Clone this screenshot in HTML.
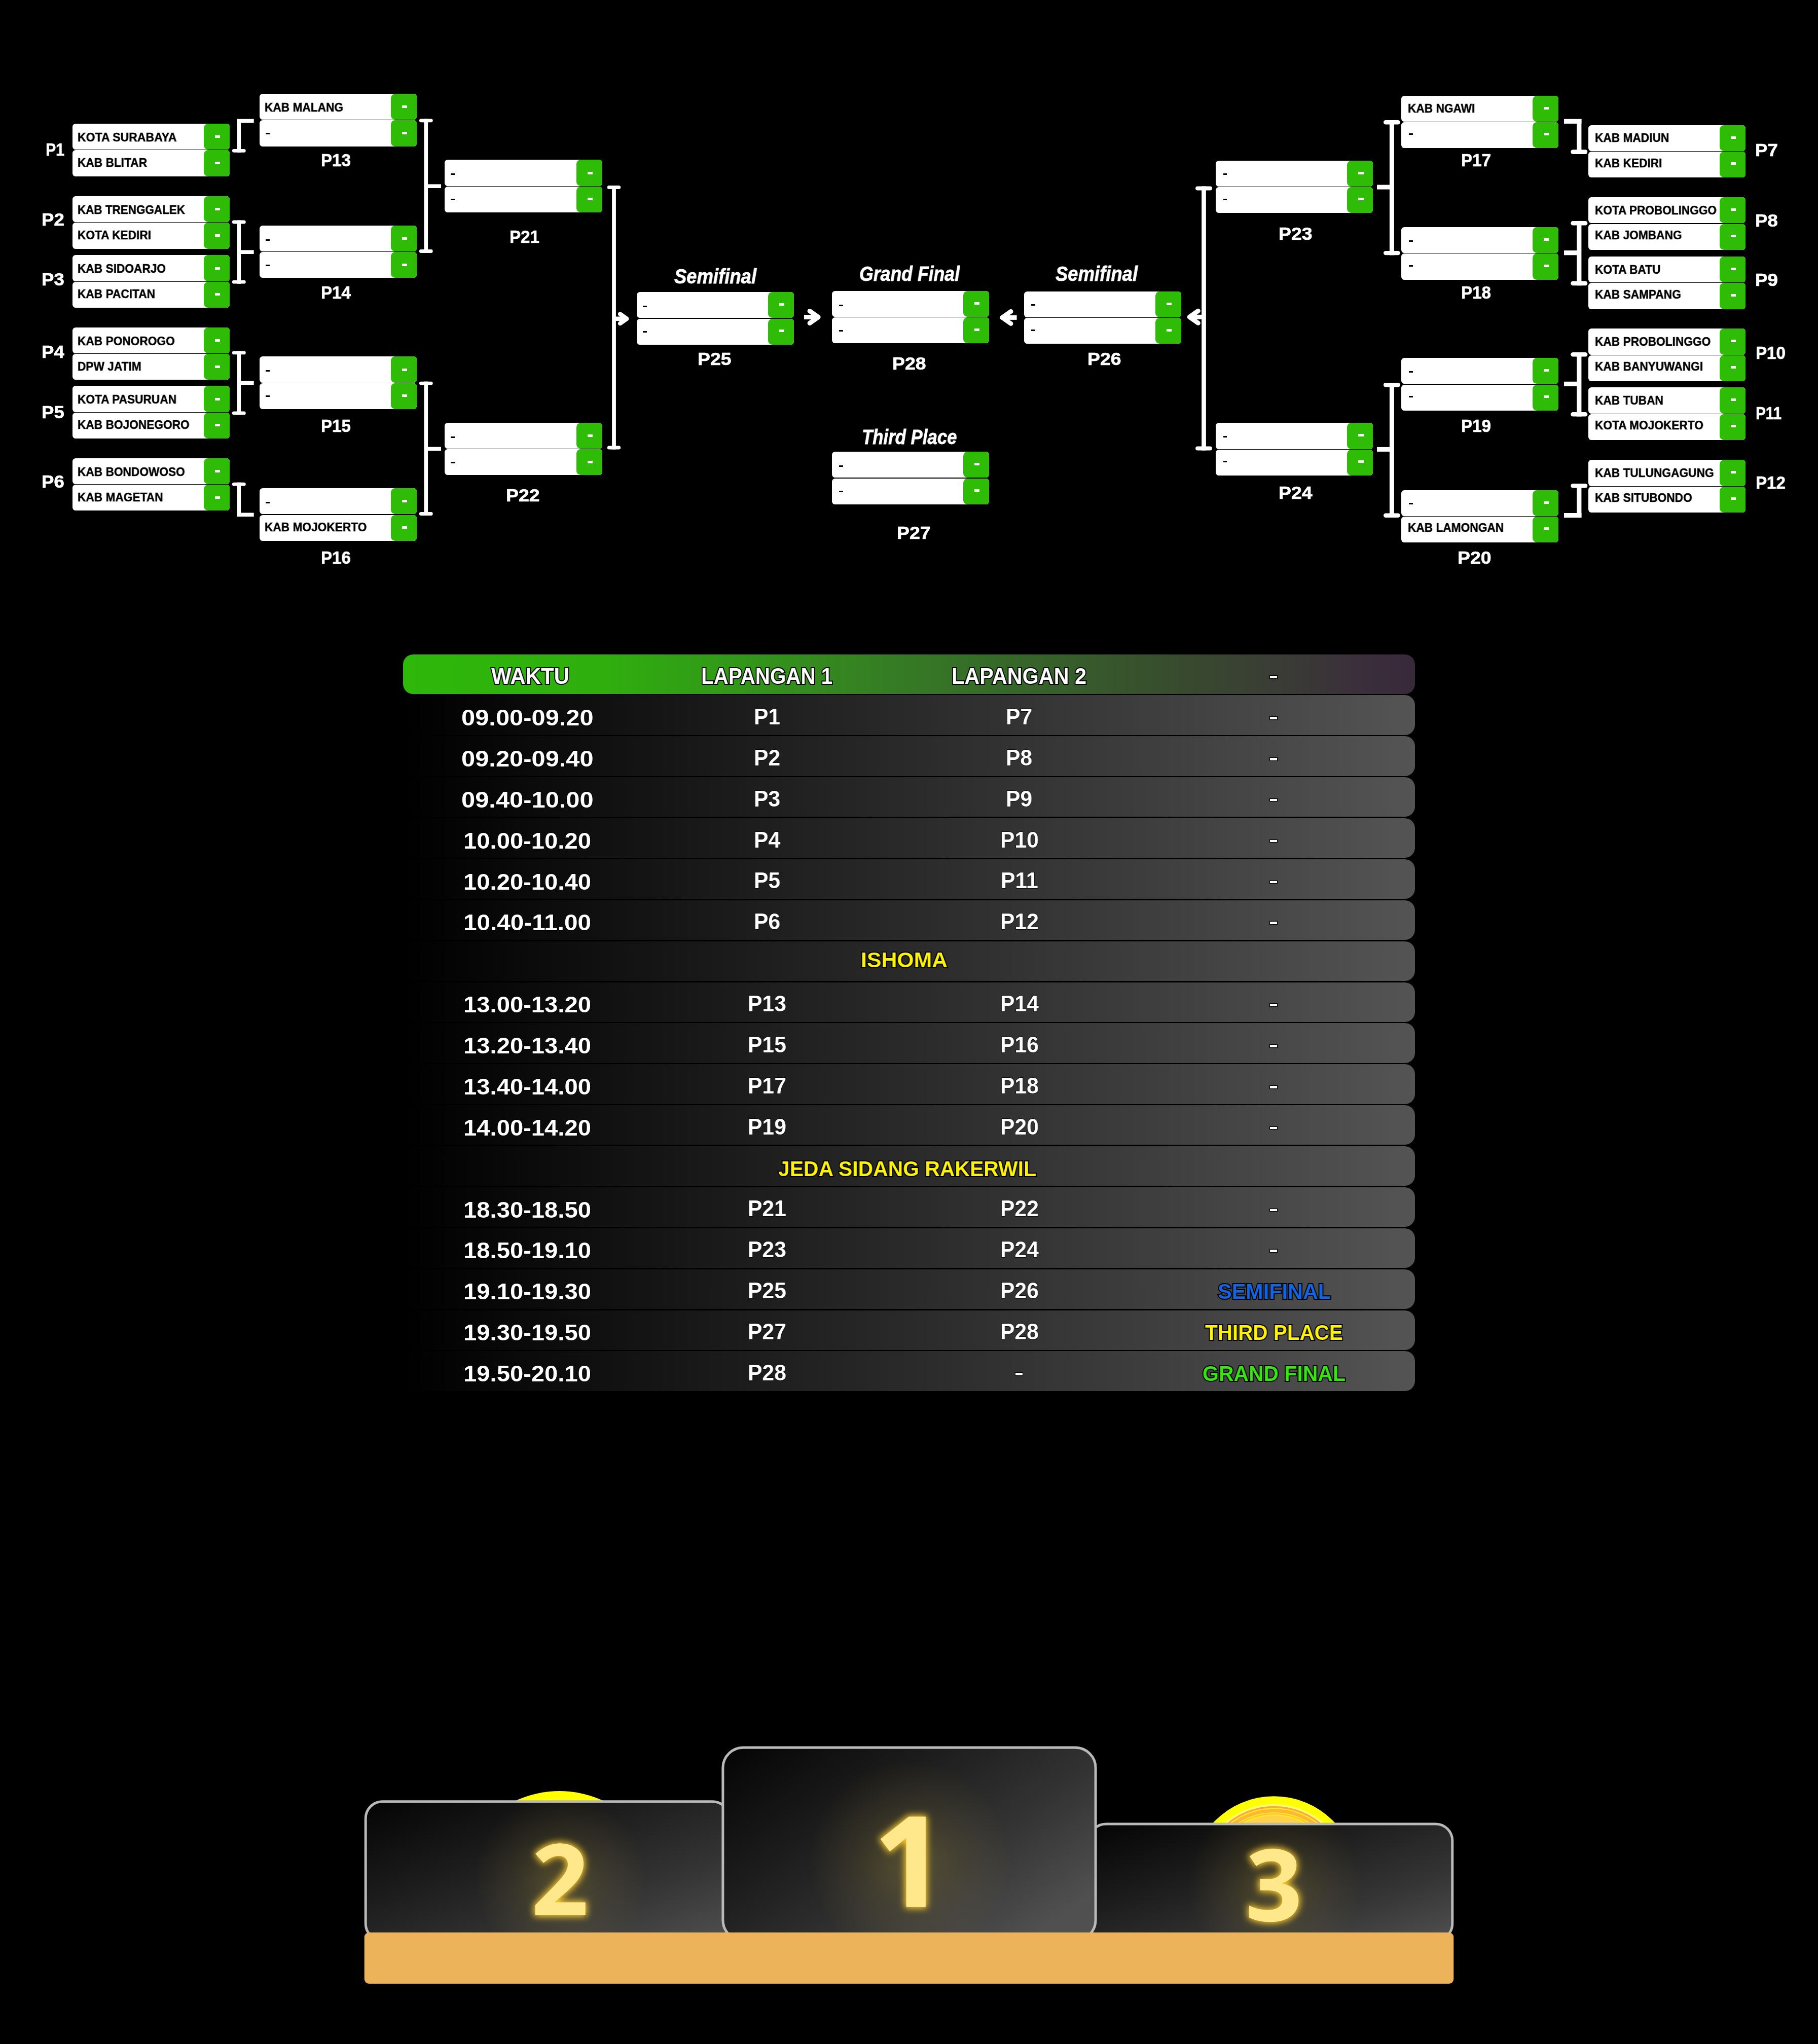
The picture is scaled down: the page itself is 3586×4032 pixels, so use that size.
<!DOCTYPE html>
<html><head><meta charset="utf-8"><title>Bracket</title>
<style>
html,body{margin:0;padding:0;background:#000;}
#page{position:relative;width:3586px;height:4032px;background:#000;overflow:hidden;font-family:"Liberation Sans",sans-serif;}
.r{position:absolute;background:#fff;border-radius:6.3px;}
.r i{position:absolute;right:0;top:0;width:51px;height:100%;background:#2ebc07;border-radius:8.5px 6.3px 6.3px 8.5px;}
.t{position:absolute;white-space:pre;color:#fff;transform-origin:0 0;will-change:transform;}
.b{font-weight:bold;}
.bi{font-weight:bold;font-style:italic;-webkit-text-stroke:0.8px #fff;will-change:transform;}
.st{-webkit-text-stroke:4px #000;paint-order:stroke fill;}
.st2{-webkit-text-stroke:1.5px #000;paint-order:stroke fill;}
.ov{position:absolute;left:0;top:0;}
.th{position:absolute;border-radius:20px;background:linear-gradient(90deg,#2eb80a 0%,#2fae0e 20%,#358222 45%,#36652a 61%,#384a2e 77%,#3a3d35 86%,#3a2e3b 95%,#38293a 100%);}
.tr{position:absolute;border-radius:20px;background:linear-gradient(90deg,#000 0%,#545454 100%);}
.nm{-webkit-text-stroke:0.5px #000;}
.pl{-webkit-text-stroke:0.7px #fff;will-change:transform;}

</style></head>
<body>
<div id="page">
<div class="r" style="left:142.8px;top:243.9px;width:310.2px;height:51.3px"><i></i></div>
<div style="position:absolute;left:423.9px;top:267.1px;width:10.4px;height:5px;background:#fff"></div>
<div class="r" style="left:142.8px;top:296.3px;width:310.2px;height:51.3px"><i></i></div>
<div style="position:absolute;left:423.9px;top:318.8px;width:10.4px;height:5px;background:#fff"></div>
<div class="r" style="left:142.8px;top:386.9px;width:310.2px;height:51.3px"><i></i></div>
<div style="position:absolute;left:423.9px;top:410.1px;width:10.4px;height:5px;background:#fff"></div>
<div class="r" style="left:142.8px;top:439.3px;width:310.2px;height:51.3px"><i></i></div>
<div style="position:absolute;left:423.9px;top:461.7px;width:10.4px;height:5px;background:#fff"></div>
<div class="r" style="left:142.8px;top:503.3px;width:310.2px;height:51.3px"><i></i></div>
<div style="position:absolute;left:423.9px;top:526.6px;width:10.4px;height:5px;background:#fff"></div>
<div class="r" style="left:142.8px;top:555.7px;width:310.2px;height:51.3px"><i></i></div>
<div style="position:absolute;left:423.9px;top:578.2px;width:10.4px;height:5px;background:#fff"></div>
<div class="r" style="left:142.8px;top:645.6px;width:310.2px;height:51.3px"><i></i></div>
<div style="position:absolute;left:423.9px;top:668.9px;width:10.4px;height:5px;background:#fff"></div>
<div class="r" style="left:142.8px;top:698.0px;width:310.2px;height:51.3px"><i></i></div>
<div style="position:absolute;left:423.9px;top:720.5px;width:10.4px;height:5px;background:#fff"></div>
<div class="r" style="left:142.8px;top:761.4px;width:310.2px;height:51.3px"><i></i></div>
<div style="position:absolute;left:423.9px;top:784.6px;width:10.4px;height:5px;background:#fff"></div>
<div class="r" style="left:142.8px;top:813.8px;width:310.2px;height:51.3px"><i></i></div>
<div style="position:absolute;left:423.9px;top:836.2px;width:10.4px;height:5px;background:#fff"></div>
<div class="r" style="left:142.8px;top:903.7px;width:310.2px;height:51.3px"><i></i></div>
<div style="position:absolute;left:423.9px;top:927.0px;width:10.4px;height:5px;background:#fff"></div>
<div class="r" style="left:142.8px;top:956.1px;width:310.2px;height:51.3px"><i></i></div>
<div style="position:absolute;left:423.9px;top:978.6px;width:10.4px;height:5px;background:#fff"></div>
<div class="r" style="left:511.9px;top:184.9px;width:310.2px;height:51.3px"><i></i></div>
<div style="position:absolute;left:793.0px;top:208.2px;width:10.4px;height:5px;background:#fff"></div>
<div class="r" style="left:511.9px;top:237.3px;width:310.2px;height:51.3px"><i></i></div>
<div style="position:absolute;left:793.0px;top:259.8px;width:10.4px;height:5px;background:#fff"></div>
<div style="position:absolute;left:523.7px;top:261.8px;width:7.9px;height:3.1px;background:#000"></div>
<div class="r" style="left:511.9px;top:444.8px;width:310.2px;height:51.3px"><i></i></div>
<div style="position:absolute;left:793.0px;top:468.0px;width:10.4px;height:5px;background:#fff"></div>
<div style="position:absolute;left:523.7px;top:471.7px;width:7.9px;height:3.1px;background:#000"></div>
<div class="r" style="left:511.9px;top:497.2px;width:310.2px;height:51.3px"><i></i></div>
<div style="position:absolute;left:793.0px;top:519.7px;width:10.4px;height:5px;background:#fff"></div>
<div style="position:absolute;left:523.7px;top:521.7px;width:7.9px;height:3.1px;background:#000"></div>
<div class="r" style="left:511.9px;top:703.3px;width:310.2px;height:51.3px"><i></i></div>
<div style="position:absolute;left:793.0px;top:726.5px;width:10.4px;height:5px;background:#fff"></div>
<div style="position:absolute;left:523.7px;top:730.2px;width:7.9px;height:3.1px;background:#000"></div>
<div class="r" style="left:511.9px;top:755.7px;width:310.2px;height:51.3px"><i></i></div>
<div style="position:absolute;left:793.0px;top:778.1px;width:10.4px;height:5px;background:#fff"></div>
<div style="position:absolute;left:523.7px;top:780.2px;width:7.9px;height:3.1px;background:#000"></div>
<div class="r" style="left:511.9px;top:963.1px;width:310.2px;height:51.3px"><i></i></div>
<div style="position:absolute;left:793.0px;top:986.4px;width:10.4px;height:5px;background:#fff"></div>
<div style="position:absolute;left:523.7px;top:990.0px;width:7.9px;height:3.1px;background:#000"></div>
<div class="r" style="left:511.9px;top:1015.5px;width:310.2px;height:51.3px"><i></i></div>
<div style="position:absolute;left:793.0px;top:1038.0px;width:10.4px;height:5px;background:#fff"></div>
<div class="r" style="left:877.4px;top:315.3px;width:310.2px;height:51.3px"><i></i></div>
<div style="position:absolute;left:1158.5px;top:338.5px;width:10.4px;height:5px;background:#fff"></div>
<div style="position:absolute;left:889.2px;top:342.2px;width:7.9px;height:3.1px;background:#000"></div>
<div class="r" style="left:877.4px;top:367.7px;width:310.2px;height:51.3px"><i></i></div>
<div style="position:absolute;left:1158.5px;top:390.1px;width:10.4px;height:5px;background:#fff"></div>
<div style="position:absolute;left:889.2px;top:392.2px;width:7.9px;height:3.1px;background:#000"></div>
<div class="r" style="left:877.4px;top:833.6px;width:310.2px;height:51.3px"><i></i></div>
<div style="position:absolute;left:1158.5px;top:856.9px;width:10.4px;height:5px;background:#fff"></div>
<div style="position:absolute;left:889.2px;top:860.5px;width:7.9px;height:3.1px;background:#000"></div>
<div class="r" style="left:877.4px;top:886.0px;width:310.2px;height:51.3px"><i></i></div>
<div style="position:absolute;left:1158.5px;top:908.5px;width:10.4px;height:5px;background:#fff"></div>
<div style="position:absolute;left:889.2px;top:910.5px;width:7.9px;height:3.1px;background:#000"></div>
<div class="r" style="left:1255.9px;top:576.2px;width:310.2px;height:51.3px"><i></i></div>
<div style="position:absolute;left:1537.0px;top:598.2px;width:10.4px;height:5px;background:#fff"></div>
<div style="position:absolute;left:1267.7px;top:603.1px;width:7.9px;height:3.1px;background:#000"></div>
<div class="r" style="left:1255.9px;top:628.6px;width:310.2px;height:51.3px"><i></i></div>
<div style="position:absolute;left:1537.0px;top:650.0px;width:10.4px;height:5px;background:#fff"></div>
<div style="position:absolute;left:1267.7px;top:653.1px;width:7.9px;height:3.1px;background:#000"></div>
<div class="r" style="left:1640.6px;top:573.7px;width:310.2px;height:51.3px"><i></i></div>
<div style="position:absolute;left:1921.7px;top:595.7px;width:10.4px;height:5px;background:#fff"></div>
<div style="position:absolute;left:1654.9px;top:600.6px;width:7.9px;height:3.1px;background:#000"></div>
<div class="r" style="left:1640.6px;top:626.1px;width:310.2px;height:51.3px"><i></i></div>
<div style="position:absolute;left:1921.7px;top:647.5px;width:10.4px;height:5px;background:#fff"></div>
<div style="position:absolute;left:1654.9px;top:650.6px;width:7.9px;height:3.1px;background:#000"></div>
<div class="r" style="left:2019.8px;top:574.8px;width:310.2px;height:51.3px"><i></i></div>
<div style="position:absolute;left:2300.9px;top:596.8px;width:10.4px;height:5px;background:#fff"></div>
<div style="position:absolute;left:2034.1px;top:600.3px;width:7.9px;height:3.1px;background:#000"></div>
<div class="r" style="left:2019.8px;top:627.2px;width:310.2px;height:51.3px"><i></i></div>
<div style="position:absolute;left:2300.9px;top:648.5px;width:10.4px;height:5px;background:#fff"></div>
<div style="position:absolute;left:2034.1px;top:649.6px;width:7.9px;height:3.1px;background:#000"></div>
<div class="r" style="left:1640.6px;top:891.2px;width:310.2px;height:51.3px"><i></i></div>
<div style="position:absolute;left:1921.7px;top:913.2px;width:10.4px;height:5px;background:#fff"></div>
<div style="position:absolute;left:1654.9px;top:918.1px;width:7.9px;height:3.1px;background:#000"></div>
<div class="r" style="left:1640.6px;top:943.6px;width:310.2px;height:51.3px"><i></i></div>
<div style="position:absolute;left:1921.7px;top:965.0px;width:10.4px;height:5px;background:#fff"></div>
<div style="position:absolute;left:1654.9px;top:968.1px;width:7.9px;height:3.1px;background:#000"></div>
<div class="r" style="left:2398.3px;top:316.7px;width:310.2px;height:51.3px"><i></i></div>
<div style="position:absolute;left:2679.4px;top:338.6px;width:10.4px;height:5px;background:#fff"></div>
<div style="position:absolute;left:2412.6px;top:342.2px;width:7.9px;height:3.1px;background:#000"></div>
<div class="r" style="left:2398.3px;top:369.1px;width:310.2px;height:51.3px"><i></i></div>
<div style="position:absolute;left:2679.4px;top:390.4px;width:10.4px;height:5px;background:#fff"></div>
<div style="position:absolute;left:2412.6px;top:391.5px;width:7.9px;height:3.1px;background:#000"></div>
<div class="r" style="left:2398.3px;top:834.4px;width:310.2px;height:51.3px"><i></i></div>
<div style="position:absolute;left:2679.4px;top:856.4px;width:10.4px;height:5px;background:#fff"></div>
<div style="position:absolute;left:2412.6px;top:859.9px;width:7.9px;height:3.1px;background:#000"></div>
<div class="r" style="left:2398.3px;top:886.8px;width:310.2px;height:51.3px"><i></i></div>
<div style="position:absolute;left:2679.4px;top:908.1px;width:10.4px;height:5px;background:#fff"></div>
<div style="position:absolute;left:2412.6px;top:909.2px;width:7.9px;height:3.1px;background:#000"></div>
<div class="r" style="left:2764.0px;top:188.6px;width:310.2px;height:51.3px"><i></i></div>
<div style="position:absolute;left:3045.1px;top:210.5px;width:10.4px;height:5px;background:#fff"></div>
<div class="r" style="left:2764.0px;top:241.0px;width:310.2px;height:51.3px"><i></i></div>
<div style="position:absolute;left:3045.1px;top:262.3px;width:10.4px;height:5px;background:#fff"></div>
<div style="position:absolute;left:2779.2px;top:263.4px;width:7.9px;height:3.1px;background:#000"></div>
<div class="r" style="left:2764.0px;top:448.0px;width:310.2px;height:51.3px"><i></i></div>
<div style="position:absolute;left:3045.1px;top:469.9px;width:10.4px;height:5px;background:#fff"></div>
<div style="position:absolute;left:2779.2px;top:473.5px;width:7.9px;height:3.1px;background:#000"></div>
<div class="r" style="left:2764.0px;top:500.4px;width:310.2px;height:51.3px"><i></i></div>
<div style="position:absolute;left:3045.1px;top:521.8px;width:10.4px;height:5px;background:#fff"></div>
<div style="position:absolute;left:2779.2px;top:522.8px;width:7.9px;height:3.1px;background:#000"></div>
<div class="r" style="left:2764.0px;top:706.2px;width:310.2px;height:51.3px"><i></i></div>
<div style="position:absolute;left:3045.1px;top:728.2px;width:10.4px;height:5px;background:#fff"></div>
<div style="position:absolute;left:2779.2px;top:731.7px;width:7.9px;height:3.1px;background:#000"></div>
<div class="r" style="left:2764.0px;top:758.6px;width:310.2px;height:51.3px"><i></i></div>
<div style="position:absolute;left:3045.1px;top:780.0px;width:10.4px;height:5px;background:#fff"></div>
<div style="position:absolute;left:2779.2px;top:781.0px;width:7.9px;height:3.1px;background:#000"></div>
<div class="r" style="left:2764.0px;top:966.5px;width:310.2px;height:51.3px"><i></i></div>
<div style="position:absolute;left:3045.1px;top:988.5px;width:10.4px;height:5px;background:#fff"></div>
<div style="position:absolute;left:2779.2px;top:992.0px;width:7.9px;height:3.1px;background:#000"></div>
<div class="r" style="left:2764.0px;top:1018.9px;width:310.2px;height:51.3px"><i></i></div>
<div style="position:absolute;left:3045.1px;top:1040.2px;width:10.4px;height:5px;background:#fff"></div>
<div class="r" style="left:3132.9px;top:246.7px;width:310.2px;height:51.3px"><i></i></div>
<div style="position:absolute;left:3414.0px;top:268.6px;width:10.4px;height:5px;background:#fff"></div>
<div class="r" style="left:3132.9px;top:299.1px;width:310.2px;height:51.3px"><i></i></div>
<div style="position:absolute;left:3414.0px;top:320.4px;width:10.4px;height:5px;background:#fff"></div>
<div class="r" style="left:3132.9px;top:389.2px;width:310.2px;height:51.3px"><i></i></div>
<div style="position:absolute;left:3414.0px;top:411.1px;width:10.4px;height:5px;background:#fff"></div>
<div class="r" style="left:3132.9px;top:441.6px;width:310.2px;height:51.3px"><i></i></div>
<div style="position:absolute;left:3414.0px;top:462.9px;width:10.4px;height:5px;background:#fff"></div>
<div class="r" style="left:3132.9px;top:506.0px;width:310.2px;height:51.3px"><i></i></div>
<div style="position:absolute;left:3414.0px;top:528.0px;width:10.4px;height:5px;background:#fff"></div>
<div class="r" style="left:3132.9px;top:558.4px;width:310.2px;height:51.3px"><i></i></div>
<div style="position:absolute;left:3414.0px;top:579.8px;width:10.4px;height:5px;background:#fff"></div>
<div class="r" style="left:3132.9px;top:648.4px;width:310.2px;height:51.3px"><i></i></div>
<div style="position:absolute;left:3414.0px;top:670.4px;width:10.4px;height:5px;background:#fff"></div>
<div class="r" style="left:3132.9px;top:700.8px;width:310.2px;height:51.3px"><i></i></div>
<div style="position:absolute;left:3414.0px;top:722.1px;width:10.4px;height:5px;background:#fff"></div>
<div class="r" style="left:3132.9px;top:764.3px;width:310.2px;height:51.3px"><i></i></div>
<div style="position:absolute;left:3414.0px;top:786.2px;width:10.4px;height:5px;background:#fff"></div>
<div class="r" style="left:3132.9px;top:816.7px;width:310.2px;height:51.3px"><i></i></div>
<div style="position:absolute;left:3414.0px;top:838.0px;width:10.4px;height:5px;background:#fff"></div>
<div class="r" style="left:3132.9px;top:907.3px;width:310.2px;height:51.3px"><i></i></div>
<div style="position:absolute;left:3414.0px;top:929.2px;width:10.4px;height:5px;background:#fff"></div>
<div class="r" style="left:3132.9px;top:959.7px;width:310.2px;height:51.3px"><i></i></div>
<div style="position:absolute;left:3414.0px;top:981.0px;width:10.4px;height:5px;background:#fff"></div>
<div class="th" style="left:794.6px;top:1290.60px;width:1996.4px;height:78.2px"></div>
<div style="position:absolute;left:2504.9px;top:1333.1px;width:14.6px;height:4.8px;background:#fff;box-shadow:0 0 0 1.2px #000"></div>
<div class="tr" style="left:794.6px;top:1371.47px;width:1996.4px;height:78.2px"></div>
<div style="position:absolute;left:2504.9px;top:1414.0px;width:14.6px;height:4.8px;background:#fff;box-shadow:0 0 0 1.2px #000"></div>
<div class="tr" style="left:794.6px;top:1452.35px;width:1996.4px;height:78.2px"></div>
<div style="position:absolute;left:2504.9px;top:1494.8px;width:14.6px;height:4.8px;background:#fff;box-shadow:0 0 0 1.2px #000"></div>
<div class="tr" style="left:794.6px;top:1533.22px;width:1996.4px;height:78.2px"></div>
<div style="position:absolute;left:2504.9px;top:1575.7px;width:14.6px;height:4.8px;background:#fff;box-shadow:0 0 0 1.2px #000"></div>
<div class="tr" style="left:794.6px;top:1614.10px;width:1996.4px;height:78.2px"></div>
<div style="position:absolute;left:2504.9px;top:1656.6px;width:14.6px;height:4.8px;background:#fff;box-shadow:0 0 0 1.2px #000"></div>
<div class="tr" style="left:794.6px;top:1694.97px;width:1996.4px;height:78.2px"></div>
<div style="position:absolute;left:2504.9px;top:1737.5px;width:14.6px;height:4.8px;background:#fff;box-shadow:0 0 0 1.2px #000"></div>
<div class="tr" style="left:794.6px;top:1775.85px;width:1996.4px;height:78.2px"></div>
<div style="position:absolute;left:2504.9px;top:1818.3px;width:14.6px;height:4.8px;background:#fff;box-shadow:0 0 0 1.2px #000"></div>
<div class="tr" style="left:794.6px;top:1856.72px;width:1996.4px;height:78.2px"></div>
<div class="tr" style="left:794.6px;top:1937.60px;width:1996.4px;height:78.2px"></div>
<div style="position:absolute;left:2504.9px;top:1980.1px;width:14.6px;height:4.8px;background:#fff;box-shadow:0 0 0 1.2px #000"></div>
<div class="tr" style="left:794.6px;top:2018.47px;width:1996.4px;height:78.2px"></div>
<div style="position:absolute;left:2504.9px;top:2061.0px;width:14.6px;height:4.8px;background:#fff;box-shadow:0 0 0 1.2px #000"></div>
<div class="tr" style="left:794.6px;top:2099.35px;width:1996.4px;height:78.2px"></div>
<div style="position:absolute;left:2504.9px;top:2141.8px;width:14.6px;height:4.8px;background:#fff;box-shadow:0 0 0 1.2px #000"></div>
<div class="tr" style="left:794.6px;top:2180.22px;width:1996.4px;height:78.2px"></div>
<div style="position:absolute;left:2504.9px;top:2222.7px;width:14.6px;height:4.8px;background:#fff;box-shadow:0 0 0 1.2px #000"></div>
<div class="tr" style="left:794.6px;top:2261.10px;width:1996.4px;height:78.2px"></div>
<div class="tr" style="left:794.6px;top:2341.97px;width:1996.4px;height:78.2px"></div>
<div style="position:absolute;left:2504.9px;top:2384.5px;width:14.6px;height:4.8px;background:#fff;box-shadow:0 0 0 1.2px #000"></div>
<div class="tr" style="left:794.6px;top:2422.85px;width:1996.4px;height:78.2px"></div>
<div style="position:absolute;left:2504.9px;top:2465.3px;width:14.6px;height:4.8px;background:#fff;box-shadow:0 0 0 1.2px #000"></div>
<div class="tr" style="left:794.6px;top:2503.72px;width:1996.4px;height:78.2px"></div>
<div class="tr" style="left:794.6px;top:2584.60px;width:1996.4px;height:78.2px"></div>
<div class="tr" style="left:794.6px;top:2665.47px;width:1996.4px;height:78.2px"></div>
<div style="position:absolute;left:2002.9px;top:2708.0px;width:14.6px;height:4.8px;background:#fff;box-shadow:0 0 0 1.2px #000"></div>
<span class="t b nm" style="left:152.5px;top:259.9px;font-size:23.6px;line-height:23.6px;transform:scaleX(0.9772);color:#000">KOTA SURABAYA</span>
<span class="t b nm" style="left:152.5px;top:309.9px;font-size:23.6px;line-height:23.6px;transform:scaleX(0.9620);color:#000">KAB BLITAR</span>
<span class="t b nm" style="left:152.5px;top:402.9px;font-size:23.6px;line-height:23.6px;transform:scaleX(0.9514);color:#000">KAB TRENGGALEK</span>
<span class="t b nm" style="left:152.5px;top:452.9px;font-size:23.6px;line-height:23.6px;transform:scaleX(0.9620);color:#000">KOTA KEDIRI</span>
<span class="t b nm" style="left:152.5px;top:519.3px;font-size:23.6px;line-height:23.6px;transform:scaleX(0.9620);color:#000">KAB SIDOARJO</span>
<span class="t b nm" style="left:152.5px;top:569.3px;font-size:23.6px;line-height:23.6px;transform:scaleX(0.9620);color:#000">KAB PACITAN</span>
<span class="t b nm" style="left:152.5px;top:661.6px;font-size:23.6px;line-height:23.6px;transform:scaleX(0.9620);color:#000">KAB PONOROGO</span>
<span class="t b nm" style="left:152.5px;top:711.6px;font-size:23.6px;line-height:23.6px;transform:scaleX(0.9620);color:#000">DPW JATIM</span>
<span class="t b nm" style="left:152.5px;top:777.4px;font-size:23.6px;line-height:23.6px;transform:scaleX(0.9620);color:#000">KOTA PASURUAN</span>
<span class="t b nm" style="left:152.5px;top:827.4px;font-size:23.6px;line-height:23.6px;transform:scaleX(0.9620);color:#000">KAB BOJONEGORO</span>
<span class="t b nm" style="left:152.5px;top:919.7px;font-size:23.6px;line-height:23.6px;transform:scaleX(0.9620);color:#000">KAB BONDOWOSO</span>
<span class="t b nm" style="left:152.5px;top:969.7px;font-size:23.6px;line-height:23.6px;transform:scaleX(0.9620);color:#000">KAB MAGETAN</span>
<span class="t b nm" style="left:521.6px;top:200.9px;font-size:23.6px;line-height:23.6px;transform:scaleX(0.9620);color:#000">KAB MALANG</span>
<span class="t b nm" style="left:521.6px;top:1029.1px;font-size:23.6px;line-height:23.6px;transform:scaleX(0.9620);color:#000">KAB MOJOKERTO</span>
<span class="t b nm" style="left:2777.1px;top:203.2px;font-size:23.6px;line-height:23.6px;transform:scaleX(0.9620);color:#000">KAB NGAWI</span>
<span class="t b nm" style="left:2777.1px;top:1030.4px;font-size:23.6px;line-height:23.6px;transform:scaleX(0.9620);color:#000">KAB LAMONGAN</span>
<span class="t b nm" style="left:3146.0px;top:261.3px;font-size:23.6px;line-height:23.6px;transform:scaleX(0.9620);color:#000">KAB MADIUN</span>
<span class="t b nm" style="left:3146.0px;top:310.6px;font-size:23.6px;line-height:23.6px;transform:scaleX(0.9620);color:#000">KAB KEDIRI</span>
<span class="t b nm" style="left:3145.6px;top:403.8px;font-size:23.6px;line-height:23.6px;transform:scaleX(0.9586);color:#000">KOTA PROBOLINGGO</span>
<span class="t b nm" style="left:3145.6px;top:453.1px;font-size:23.6px;line-height:23.6px;transform:scaleX(0.9620);color:#000">KAB JOMBANG</span>
<span class="t b nm" style="left:3146.0px;top:520.6px;font-size:23.6px;line-height:23.6px;transform:scaleX(0.9620);color:#000">KOTA BATU</span>
<span class="t b nm" style="left:3146.0px;top:569.9px;font-size:23.6px;line-height:23.6px;transform:scaleX(0.9620);color:#000">KAB SAMPANG</span>
<span class="t b nm" style="left:3146.0px;top:663.0px;font-size:23.6px;line-height:23.6px;transform:scaleX(0.9620);color:#000">KAB PROBOLINGGO</span>
<span class="t b nm" style="left:3146.0px;top:712.3px;font-size:23.6px;line-height:23.6px;transform:scaleX(0.9620);color:#000">KAB BANYUWANGI</span>
<span class="t b nm" style="left:3146.0px;top:778.9px;font-size:23.6px;line-height:23.6px;transform:scaleX(0.9620);color:#000">KAB TUBAN</span>
<span class="t b nm" style="left:3146.0px;top:828.2px;font-size:23.6px;line-height:23.6px;transform:scaleX(0.9620);color:#000">KOTA MOJOKERTO</span>
<span class="t b nm" style="left:3146.0px;top:921.9px;font-size:23.6px;line-height:23.6px;transform:scaleX(0.9620);color:#000">KAB TULUNGAGUNG</span>
<span class="t b nm" style="left:3146.0px;top:971.2px;font-size:23.6px;line-height:23.6px;transform:scaleX(0.9620);color:#000">KAB SITUBONDO</span>
<span class="t b pl" style="left:89.8px;top:276.8px;font-size:35.3px;line-height:35.3px;transform:scaleX(0.8584);">P1</span>
<span class="t b pl" style="left:82.3px;top:414.8px;font-size:35.3px;line-height:35.3px;transform:scaleX(1.0367);">P2</span>
<span class="t b pl" style="left:82.3px;top:532.5px;font-size:35.3px;line-height:35.3px;transform:scaleX(1.0367);">P3</span>
<span class="t b pl" style="left:82.3px;top:676.4px;font-size:35.3px;line-height:35.3px;transform:scaleX(1.0367);">P4</span>
<span class="t b pl" style="left:82.3px;top:795.0px;font-size:35.3px;line-height:35.3px;transform:scaleX(1.0367);">P5</span>
<span class="t b pl" style="left:82.3px;top:932.4px;font-size:35.3px;line-height:35.3px;transform:scaleX(1.0367);">P6</span>
<span class="t b pl" style="left:3462.2px;top:277.8px;font-size:35.3px;line-height:35.3px;transform:scaleX(1.0367);">P7</span>
<span class="t b pl" style="left:3462.2px;top:416.8px;font-size:35.3px;line-height:35.3px;transform:scaleX(1.0367);">P8</span>
<span class="t b pl" style="left:3462.2px;top:534.4px;font-size:35.3px;line-height:35.3px;transform:scaleX(1.0367);">P9</span>
<span class="t b pl" style="left:3462.5px;top:677.9px;font-size:35.3px;line-height:35.3px;transform:scaleX(0.9372);">P10</span>
<span class="t b pl" style="left:3462.7px;top:796.6px;font-size:35.3px;line-height:35.3px;transform:scaleX(0.8408);">P11</span>
<span class="t b pl" style="left:3462.5px;top:933.9px;font-size:35.3px;line-height:35.3px;transform:scaleX(0.9372);">P12</span>
<span class="t b pl" style="left:633.4px;top:298.3px;font-size:35.3px;line-height:35.3px;transform:scaleX(0.9372);">P13</span>
<span class="t b pl" style="left:633.4px;top:558.9px;font-size:35.3px;line-height:35.3px;transform:scaleX(0.9372);">P14</span>
<span class="t b pl" style="left:633.4px;top:822.1px;font-size:35.3px;line-height:35.3px;transform:scaleX(0.9372);">P15</span>
<span class="t b pl" style="left:633.4px;top:1082.0px;font-size:35.3px;line-height:35.3px;transform:scaleX(0.9372);">P16</span>
<span class="t b pl" style="left:1005.4px;top:449.1px;font-size:35.3px;line-height:35.3px;transform:scaleX(0.9372);">P21</span>
<span class="t b pl" style="left:997.9px;top:958.9px;font-size:35.3px;line-height:35.3px;transform:scaleX(1.0598);">P22</span>
<span class="t b pl" style="left:2882.3px;top:298.1px;font-size:35.3px;line-height:35.3px;transform:scaleX(0.9372);">P17</span>
<span class="t b pl" style="left:2882.3px;top:559.1px;font-size:35.3px;line-height:35.3px;transform:scaleX(0.9372);">P18</span>
<span class="t b pl" style="left:2882.3px;top:821.9px;font-size:35.3px;line-height:35.3px;transform:scaleX(0.9372);">P19</span>
<span class="t b pl" style="left:2874.8px;top:1082.3px;font-size:35.3px;line-height:35.3px;transform:scaleX(1.0598);">P20</span>
<span class="t b pl" style="left:2522.3px;top:443.3px;font-size:35.3px;line-height:35.3px;transform:scaleX(1.0598);">P23</span>
<span class="t b pl" style="left:2522.3px;top:954.1px;font-size:35.3px;line-height:35.3px;transform:scaleX(1.0598);">P24</span>
<span class="t b pl" style="left:1375.5px;top:689.8px;font-size:35.3px;line-height:35.3px;transform:scaleX(1.0598);">P25</span>
<span class="t b pl" style="left:2144.8px;top:690.4px;font-size:35.3px;line-height:35.3px;transform:scaleX(1.0598);">P26</span>
<span class="t b pl" style="left:1759.8px;top:699.0px;font-size:35.3px;line-height:35.3px;transform:scaleX(1.0598);">P28</span>
<span class="t b pl" style="left:1769.1px;top:1032.9px;font-size:35.3px;line-height:35.3px;transform:scaleX(1.0598);">P27</span>
<span class="t bi" style="left:1329.5px;top:524.8px;font-size:41px;line-height:41px;transform:scaleX(0.8887);">Semifinal</span>
<span class="t bi" style="left:2082.0px;top:520.1px;font-size:41px;line-height:41px;transform:scaleX(0.8887);">Semifinal</span>
<span class="t bi" style="left:1695.3px;top:520.4px;font-size:41px;line-height:41px;transform:scaleX(0.8691);">Grand Final</span>
<span class="t bi" style="left:1700.4px;top:842.2px;font-size:41px;line-height:41px;transform:scaleX(0.8484);">Third Place</span>
<span class="t b st" style="left:968.7px;top:1311.1px;font-size:45px;line-height:45px;transform:scaleX(0.9334);">WAKTU</span>
<span class="t b st" style="left:1382.9px;top:1311.1px;font-size:45px;line-height:45px;transform:scaleX(0.8956);">LAPANGAN 1</span>
<span class="t b st" style="left:1877.3px;top:1311.1px;font-size:45px;line-height:45px;transform:scaleX(0.9198);">LAPANGAN 2</span>
<span class="t b st2" style="left:909.6px;top:1395.0px;font-size:43.6px;line-height:43.6px;transform:scaleX(1.1203);">09.00-09.20</span>
<span class="t b st2" style="left:1486.9px;top:1391.9px;font-size:44px;line-height:44px;transform:scaleX(0.9700);">P1</span>
<span class="t b st2" style="left:1984.4px;top:1391.9px;font-size:44px;line-height:44px;transform:scaleX(0.9700);">P7</span>
<span class="t b st2" style="left:909.6px;top:1475.8px;font-size:43.6px;line-height:43.6px;transform:scaleX(1.1203);">09.20-09.40</span>
<span class="t b st2" style="left:1486.9px;top:1472.8px;font-size:44px;line-height:44px;transform:scaleX(0.9700);">P2</span>
<span class="t b st2" style="left:1984.4px;top:1472.8px;font-size:44px;line-height:44px;transform:scaleX(0.9700);">P8</span>
<span class="t b st2" style="left:909.6px;top:1556.7px;font-size:43.6px;line-height:43.6px;transform:scaleX(1.1203);">09.40-10.00</span>
<span class="t b st2" style="left:1486.9px;top:1553.7px;font-size:44px;line-height:44px;transform:scaleX(0.9700);">P3</span>
<span class="t b st2" style="left:1984.4px;top:1553.7px;font-size:44px;line-height:44px;transform:scaleX(0.9700);">P9</span>
<span class="t b st2" style="left:914.0px;top:1637.6px;font-size:43.6px;line-height:43.6px;transform:scaleX(1.0829);">10.00-10.20</span>
<span class="t b st2" style="left:1486.9px;top:1634.5px;font-size:44px;line-height:44px;transform:scaleX(0.9700);">P4</span>
<span class="t b st2" style="left:1972.5px;top:1634.5px;font-size:44px;line-height:44px;transform:scaleX(0.9700);">P10</span>
<span class="t b st2" style="left:914.0px;top:1718.5px;font-size:43.6px;line-height:43.6px;transform:scaleX(1.0829);">10.20-10.40</span>
<span class="t b st2" style="left:1486.9px;top:1715.4px;font-size:44px;line-height:44px;transform:scaleX(0.9700);">P5</span>
<span class="t b st2" style="left:1973.7px;top:1715.4px;font-size:44px;line-height:44px;transform:scaleX(0.9700);">P11</span>
<span class="t b st2" style="left:914.0px;top:1799.3px;font-size:43.6px;line-height:43.6px;transform:scaleX(1.0942);">10.40-11.00</span>
<span class="t b st2" style="left:1486.9px;top:1796.3px;font-size:44px;line-height:44px;transform:scaleX(0.9700);">P6</span>
<span class="t b st2" style="left:1972.5px;top:1796.3px;font-size:44px;line-height:44px;transform:scaleX(0.9700);">P12</span>
<span class="t b st" style="left:1698.4px;top:1871.9px;font-size:43px;line-height:43px;transform:scaleX(0.9942);color:#fff20a">ISHOMA</span>
<span class="t b st2" style="left:914.0px;top:1961.1px;font-size:43.6px;line-height:43.6px;transform:scaleX(1.0829);">13.00-13.20</span>
<span class="t b st2" style="left:1475.0px;top:1958.0px;font-size:44px;line-height:44px;transform:scaleX(0.9700);">P13</span>
<span class="t b st2" style="left:1972.5px;top:1958.0px;font-size:44px;line-height:44px;transform:scaleX(0.9700);">P14</span>
<span class="t b st2" style="left:914.0px;top:2042.0px;font-size:43.6px;line-height:43.6px;transform:scaleX(1.0829);">13.20-13.40</span>
<span class="t b st2" style="left:1475.0px;top:2038.9px;font-size:44px;line-height:44px;transform:scaleX(0.9700);">P15</span>
<span class="t b st2" style="left:1972.5px;top:2038.9px;font-size:44px;line-height:44px;transform:scaleX(0.9700);">P16</span>
<span class="t b st2" style="left:914.0px;top:2122.8px;font-size:43.6px;line-height:43.6px;transform:scaleX(1.0829);">13.40-14.00</span>
<span class="t b st2" style="left:1475.0px;top:2119.8px;font-size:44px;line-height:44px;transform:scaleX(0.9700);">P17</span>
<span class="t b st2" style="left:1972.5px;top:2119.8px;font-size:44px;line-height:44px;transform:scaleX(0.9700);">P18</span>
<span class="t b st2" style="left:914.0px;top:2203.7px;font-size:43.6px;line-height:43.6px;transform:scaleX(1.0829);">14.00-14.20</span>
<span class="t b st2" style="left:1475.0px;top:2200.7px;font-size:44px;line-height:44px;transform:scaleX(0.9700);">P19</span>
<span class="t b st2" style="left:1972.5px;top:2200.7px;font-size:44px;line-height:44px;transform:scaleX(0.9700);">P20</span>
<span class="t b st" style="left:1534.5px;top:2284.4px;font-size:43px;line-height:43px;transform:scaleX(0.9511);color:#fff20a">JEDA SIDANG RAKERWIL</span>
<span class="t b st2" style="left:914.0px;top:2365.5px;font-size:43.6px;line-height:43.6px;transform:scaleX(1.0829);">18.30-18.50</span>
<span class="t b st2" style="left:1475.0px;top:2362.4px;font-size:44px;line-height:44px;transform:scaleX(0.9700);">P21</span>
<span class="t b st2" style="left:1972.5px;top:2362.4px;font-size:44px;line-height:44px;transform:scaleX(0.9700);">P22</span>
<span class="t b st2" style="left:914.0px;top:2446.3px;font-size:43.6px;line-height:43.6px;transform:scaleX(1.0829);">18.50-19.10</span>
<span class="t b st2" style="left:1475.0px;top:2443.3px;font-size:44px;line-height:44px;transform:scaleX(0.9700);">P23</span>
<span class="t b st2" style="left:1972.5px;top:2443.3px;font-size:44px;line-height:44px;transform:scaleX(0.9700);">P24</span>
<span class="t b st2" style="left:914.0px;top:2527.2px;font-size:43.6px;line-height:43.6px;transform:scaleX(1.0829);">19.10-19.30</span>
<span class="t b st2" style="left:1475.0px;top:2524.2px;font-size:44px;line-height:44px;transform:scaleX(0.9700);">P25</span>
<span class="t b st2" style="left:1972.5px;top:2524.2px;font-size:44px;line-height:44px;transform:scaleX(0.9700);">P26</span>
<span class="t b st" style="left:2401.5px;top:2525.9px;font-size:43px;line-height:43px;transform:scaleX(0.9624);color:#1464e6">SEMIFINAL</span>
<span class="t b st2" style="left:914.0px;top:2608.1px;font-size:43.6px;line-height:43.6px;transform:scaleX(1.0829);">19.30-19.50</span>
<span class="t b st2" style="left:1475.0px;top:2605.0px;font-size:44px;line-height:44px;transform:scaleX(0.9700);">P27</span>
<span class="t b st2" style="left:1972.5px;top:2605.0px;font-size:44px;line-height:44px;transform:scaleX(0.9700);">P28</span>
<span class="t b st" style="left:2377.0px;top:2606.8px;font-size:43px;line-height:43px;transform:scaleX(0.9410);color:#fff20a">THIRD PLACE</span>
<span class="t b st2" style="left:914.0px;top:2689.0px;font-size:43.6px;line-height:43.6px;transform:scaleX(1.0829);">19.50-20.10</span>
<span class="t b st2" style="left:1475.0px;top:2685.9px;font-size:44px;line-height:44px;transform:scaleX(0.9700);">P28</span>
<span class="t b st" style="left:2372.0px;top:2687.7px;font-size:43px;line-height:43px;transform:scaleX(0.9520);color:#37e611">GRAND FINAL</span>
<svg class="ov" width="3586" height="4032" viewBox="0 0 3586 4032" fill="#fff">
<rect x="467.50" y="235.00" width="7.60" height="65.80"/>
<rect x="467.50" y="234.70" width="33.20" height="7.60"/>
<rect x="457.90" y="293.90" width="26.80" height="6.80" rx="3.40"/>
<rect x="467.50" y="434.50" width="7.60" height="125.20"/>
<rect x="457.90" y="434.60" width="26.80" height="6.80" rx="3.40"/>
<rect x="457.90" y="552.80" width="26.80" height="6.80" rx="3.40"/>
<rect x="471.30" y="493.40" width="29.40" height="7.60"/>
<rect x="467.50" y="692.40" width="7.60" height="126.00"/>
<rect x="457.90" y="692.50" width="26.80" height="6.80" rx="3.40"/>
<rect x="457.90" y="811.50" width="26.80" height="6.80" rx="3.40"/>
<rect x="471.30" y="751.50" width="29.40" height="7.60"/>
<rect x="467.50" y="951.70" width="7.60" height="67.10"/>
<rect x="457.90" y="951.80" width="26.80" height="6.80" rx="3.40"/>
<rect x="467.50" y="1011.50" width="33.20" height="7.60"/>
<rect x="836.50" y="234.30" width="7.60" height="264.70"/>
<rect x="826.90" y="234.40" width="26.80" height="6.80" rx="3.40"/>
<rect x="826.90" y="492.10" width="26.80" height="6.80" rx="3.40"/>
<rect x="840.30" y="363.40" width="29.70" height="7.60"/>
<rect x="836.50" y="752.60" width="7.60" height="264.40"/>
<rect x="826.90" y="752.70" width="26.80" height="6.80" rx="3.40"/>
<rect x="826.90" y="1010.10" width="26.80" height="6.80" rx="3.40"/>
<rect x="840.30" y="881.60" width="29.70" height="7.60"/>
<rect x="1207.10" y="366.00" width="7.80" height="520.50"/>
<rect x="1197.80" y="366.10" width="26.40" height="7.00" rx="3.50"/>
<rect x="1197.80" y="879.40" width="26.40" height="7.00" rx="3.50"/>
<rect x="3110.20" y="235.00" width="9.20" height="68.90"/>
<rect x="3085.00" y="234.70" width="34.40" height="9.20"/>
<rect x="3098.30" y="295.30" width="33.00" height="8.60" rx="4.30"/>
<rect x="3110.20" y="435.90" width="9.20" height="127.30"/>
<rect x="3098.30" y="435.90" width="33.00" height="8.60" rx="4.30"/>
<rect x="3098.30" y="554.60" width="33.00" height="8.60" rx="4.30"/>
<rect x="3085.00" y="494.10" width="29.80" height="9.20"/>
<rect x="3110.20" y="695.00" width="9.20" height="126.50"/>
<rect x="3098.30" y="695.00" width="33.00" height="8.60" rx="4.30"/>
<rect x="3098.30" y="812.90" width="33.00" height="8.60" rx="4.30"/>
<rect x="3085.00" y="752.80" width="29.80" height="9.20"/>
<rect x="3110.20" y="954.00" width="9.20" height="66.90"/>
<rect x="3098.30" y="954.00" width="33.00" height="8.60" rx="4.30"/>
<rect x="3085.00" y="1012.00" width="34.40" height="9.20"/>
<rect x="2740.90" y="237.00" width="9.00" height="266.30"/>
<rect x="2729.00" y="237.00" width="32.80" height="8.40" rx="4.20"/>
<rect x="2729.00" y="494.90" width="32.80" height="8.40" rx="4.20"/>
<rect x="2716.00" y="364.60" width="29.40" height="9.00"/>
<rect x="2740.90" y="755.00" width="9.00" height="266.00"/>
<rect x="2729.00" y="755.00" width="32.80" height="8.40" rx="4.20"/>
<rect x="2729.00" y="1012.60" width="32.80" height="8.40" rx="4.20"/>
<rect x="2716.00" y="881.90" width="29.40" height="9.00"/>
<rect x="2370.15" y="367.50" width="8.70" height="521.00"/>
<rect x="2358.10" y="367.50" width="32.80" height="8.10" rx="4.05"/>
<rect x="2358.10" y="880.40" width="32.80" height="8.10" rx="4.05"/>
<path d="M1211.00 628.80H1236.27" stroke="#fff" stroke-width="8.6" fill="none"/>
<path d="M1223.21 619.60L1236.27 628.80L1223.21 638.00" stroke="#fff" stroke-width="8.6" stroke-linecap="round" stroke-linejoin="round" fill="none"/>
<path d="M1586.00 625.50H1614.15" stroke="#fff" stroke-width="9.0" fill="none"/>
<path d="M1597.11 613.50L1614.15 625.50L1597.11 637.50" stroke="#fff" stroke-width="9.0" stroke-linecap="round" stroke-linejoin="round" fill="none"/>
<path d="M2005.60 626.40H1976.85" stroke="#fff" stroke-width="9.0" fill="none"/>
<path d="M1993.89 614.40L1976.85 626.40L1993.89 638.40" stroke="#fff" stroke-width="9.0" stroke-linecap="round" stroke-linejoin="round" fill="none"/>
<path d="M2374.50 625.30H2346.25" stroke="#fff" stroke-width="9.0" fill="none"/>
<path d="M2363.29 613.30L2346.25 625.30L2363.29 637.30" stroke="#fff" stroke-width="9.0" stroke-linecap="round" stroke-linejoin="round" fill="none"/>
</svg>
<svg class="ov" width="3586" height="4032" viewBox="0 0 3586 4032">
<defs>
<linearGradient id="pg" x1="0" y1="0" x2="1" y2="1">
<stop offset="0" stop-color="#040404"/><stop offset="0.35" stop-color="#1b1b1b"/><stop offset="0.7" stop-color="#343434"/><stop offset="1" stop-color="#505050"/>
</linearGradient>
<linearGradient id="pg1" x1="0" y1="0" x2="1" y2="0.75">
<stop offset="0" stop-color="#040404"/><stop offset="0.35" stop-color="#1b1b1b"/><stop offset="0.7" stop-color="#343434"/><stop offset="1" stop-color="#505050"/>
</linearGradient>
<radialGradient id="gl" cx="0.5" cy="0.5" r="0.5">
<stop offset="0" stop-color="#ffd840" stop-opacity="0.20"/><stop offset="0.5" stop-color="#ffd840" stop-opacity="0.08"/><stop offset="1" stop-color="#ffd840" stop-opacity="0"/>
</radialGradient>
<filter id="blur" x="-30%" y="-30%" width="160%" height="160%"><feGaussianBlur stdDeviation="7"/></filter>
<clipPath id="c2"><rect x="0" y="3400" width="3586" height="153.5"/></clipPath>
<clipPath id="c3"><rect x="0" y="3400" width="3586" height="197.6"/></clipPath>
</defs>
<g clip-path="url(#c2)"><circle cx="1103.5" cy="3737" r="204" fill="#ffff00"/></g>
<g clip-path="url(#c3)">
<circle cx="2513" cy="3706.8" r="163.6" fill="#ffff00"/>
<circle cx="2513" cy="3706.8" r="148.3" fill="#ffff66"/>
<circle cx="2513" cy="3706.8" r="144.1" fill="#ffa24f"/>
<circle cx="2513" cy="3706.8" r="140.8" fill="#ffee1a"/>
<circle cx="2513" cy="3706.8" r="138.4" fill="#ffb636"/>
<circle cx="2513" cy="3706.8" r="131.8" fill="#ffee1a"/>
<circle cx="2513" cy="3706.8" r="130" fill="#ffc23a"/>
<circle cx="2513" cy="3706.8" r="127.6" fill="#ffee1a"/>
<circle cx="2513" cy="3706.8" r="125.2" fill="#ffd24a"/>
</g>
<rect x="721.2" y="3553.8" width="717.3" height="273.7" rx="33" fill="url(#pg)" stroke="#b9b9b7" stroke-width="5.0"/>
<rect x="2148.5" y="3597.9" width="716.3" height="229.6" rx="33" fill="url(#pg)" stroke="#b9b9b7" stroke-width="5.0"/>
<rect x="1425.9" y="3447.3" width="735.2" height="380.2" rx="40" fill="url(#pg1)" stroke="#b9b9b7" stroke-width="5.0"/>
<circle cx="1105" cy="3708" r="170" fill="url(#gl)"/>
<circle cx="2513" cy="3720" r="170" fill="url(#gl)"/>
<circle cx="1795" cy="3672" r="200" fill="url(#gl)"/>
<path d="M 1056.20 3656.77 C 1068.91 3645.21 1085.41 3636.14 1103.56 3636.14 C 1131.62 3636.14 1151.09 3651.82 1151.09 3675.74 C 1151.09 3698.02 1138.22 3712.87 1118.42 3731.02 L 1093.66 3752.48 L 1154.72 3752.48 L 1154.72 3778.05 L 1055.71 3778.05 L 1055.71 3758.25 L 1093.66 3719.47 C 1111.82 3700.50 1120.07 3689.77 1120.07 3677.39 C 1120.07 3666.67 1112.64 3660.89 1102.24 3660.89 C 1090.36 3660.89 1080.46 3667.49 1072.21 3674.92 Z" fill="#ffcf2e" stroke="#ffcf2e" stroke-width="5" filter="url(#blur)"/>
<path d="M 1056.20 3656.77 C 1068.91 3645.21 1085.41 3636.14 1103.56 3636.14 C 1131.62 3636.14 1151.09 3651.82 1151.09 3675.74 C 1151.09 3698.02 1138.22 3712.87 1118.42 3731.02 L 1093.66 3752.48 L 1154.72 3752.48 L 1154.72 3778.05 L 1055.71 3778.05 L 1055.71 3758.25 L 1093.66 3719.47 C 1111.82 3700.50 1120.07 3689.77 1120.07 3677.39 C 1120.07 3666.67 1112.64 3660.89 1102.24 3660.89 C 1090.36 3660.89 1080.46 3667.49 1072.21 3674.92 Z" fill="#ffe78c"/>
<path d="M 2464.88 3661.72 C 2477.26 3652.64 2492.11 3646.86 2509.44 3646.86 C 2538.32 3646.86 2557.29 3659.24 2557.29 3679.04 C 2557.29 3696.37 2546.57 3709.57 2526.77 3715.35 C 2549.87 3718.65 2561.42 3731.02 2561.42 3748.35 C 2561.42 3775.58 2539.97 3791.25 2505.31 3791.25 C 2488.81 3791.25 2475.61 3787.95 2464.06 3782.51 L 2464.06 3759.08 C 2475.61 3764.85 2488.81 3767.66 2500.36 3767.66 C 2519.34 3767.66 2529.24 3760.73 2529.24 3747.52 C 2529.24 3734.32 2518.51 3729.04 2498.71 3729.04 L 2485.51 3729.04 L 2485.51 3707.10 L 2497.89 3707.10 C 2517.69 3707.10 2527.59 3700.50 2527.59 3688.12 C 2527.59 3677.39 2520.17 3671.62 2507.79 3671.62 C 2496.24 3671.62 2487.16 3674.92 2478.09 3681.02 Z" fill="#ffcf2e" stroke="#ffcf2e" stroke-width="5" filter="url(#blur)"/>
<path d="M 2464.88 3661.72 C 2477.26 3652.64 2492.11 3646.86 2509.44 3646.86 C 2538.32 3646.86 2557.29 3659.24 2557.29 3679.04 C 2557.29 3696.37 2546.57 3709.57 2526.77 3715.35 C 2549.87 3718.65 2561.42 3731.02 2561.42 3748.35 C 2561.42 3775.58 2539.97 3791.25 2505.31 3791.25 C 2488.81 3791.25 2475.61 3787.95 2464.06 3782.51 L 2464.06 3759.08 C 2475.61 3764.85 2488.81 3767.66 2500.36 3767.66 C 2519.34 3767.66 2529.24 3760.73 2529.24 3747.52 C 2529.24 3734.32 2518.51 3729.04 2498.71 3729.04 L 2485.51 3729.04 L 2485.51 3707.10 L 2497.89 3707.10 C 2517.69 3707.10 2527.59 3700.50 2527.59 3688.12 C 2527.59 3677.39 2520.17 3671.62 2507.79 3671.62 C 2496.24 3671.62 2487.16 3674.92 2478.09 3681.02 Z" fill="#ffe78c"/>
<path d="M 1736.70 3627.79 L 1792.60 3583.43 L 1825.87 3583.43 L 1825.87 3761.78 L 1787.52 3761.78 L 1787.52 3625.48 L 1755.18 3652.28 Z" fill="#ffcf2e" stroke="#ffcf2e" stroke-width="5" filter="url(#blur)"/>
<path d="M 1736.70 3627.79 L 1792.60 3583.43 L 1825.87 3583.43 L 1825.87 3761.78 L 1787.52 3761.78 L 1787.52 3625.48 L 1755.18 3652.28 Z" fill="#ffe78c"/>
<rect x="718.7" y="3812" width="2148.6" height="101" rx="9" fill="#edb35b"/>
</svg>
</div>
</body></html>
